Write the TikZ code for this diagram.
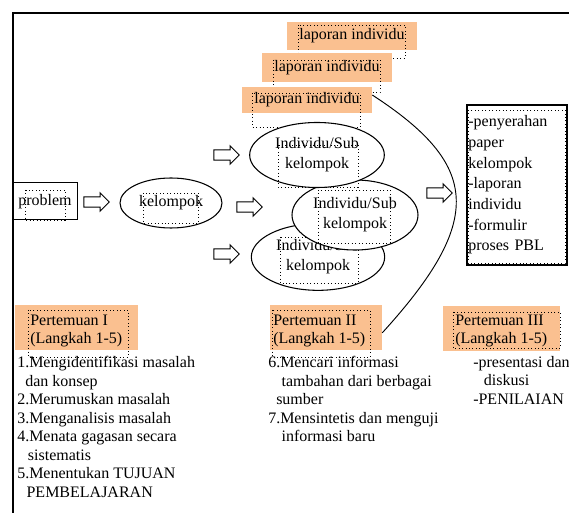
\documentclass[tikz,border=0pt]{standalone}
\usepackage{fontspec}
\setmainfont{Liberation Serif}
\usetikzlibrary{shapes.geometric,shapes.arrows}
\definecolor{jingga}{HTML}{FAC090}
\begin{document}
\begin{tikzpicture}[x=0.75pt,y=-0.75pt,font=\fontsize{12}{13.9}\selectfont,
jbox/.style={fill=jingga,inner sep=0pt},
bingkai/.style={dotted,line width=0.6pt},
panah/.style={single arrow,draw,fill=white,line width=0.7pt,minimum height=19pt,inner xsep=0pt,inner ysep=3.5pt,single arrow head extend=3pt},
elips/.style={ellipse,draw,fill=white,line width=0.8pt,align=center,inner sep=0pt,font=\fontsize{12}{15}\selectfont},
daftar/.style={anchor=north west,align=left,inner sep=0pt}]
\useasboundingbox(0,0)rectangle(569,513);
\draw[line width=0.9pt](569,13)--(13,13)--(13,513);
\node[jbox,minimum width=97.5pt,minimum height=21pt](lap1)at(352,36){laporan individu};
\draw[bingkai](298,25)rectangle(405,58);
\node[jbox,minimum width=97.5pt,minimum height=21.75pt](lap2)at(327,67.5){laporan individu};
\draw[bingkai](273,60)rectangle(380,92);
\node[jbox,minimum width=97.5pt,minimum height=19.5pt](lap3)at(307,100){laporan individu};
\draw[bingkai](252,93)rectangle(360,127);
\node[draw,fill=white,line width=0.75pt,minimum width=48pt,minimum height=27.75pt,inner sep=0pt](prob)at(45,201.5){problem};
\draw[bingkai](25,190)rectangle(65,220);
\node[panah](p1)at(94,202){};
\node[elips,minimum width=76.5pt,minimum height=37.5pt](kel)at(171,203){kelompok};
\draw[bingkai](143,193)rectangle(198,223);
\node[panah](p2)at(224,155){};
\node[panah](p3)at(247,207){};
\node[panah](p4)at(224,254){};
\node[elips,minimum width=100pt,minimum height=50pt](ind3)at(318,257){Individu/Sub\\kelompok};
\draw[bingkai](280,237)rectangle(358,283);
\node[elips,minimum width=94.5pt,minimum height=52.5pt](ind2)at(355,215){Individu/Sub\\kelompok};
\draw[bingkai](318,190)rectangle(390,243);
\node[elips,minimum width=101pt,minimum height=48.75pt](ind1)at(317,155){Individu/Sub\\kelompok};
\draw[bingkai](278,145)rectangle(358,187);
\node[panah](p5)at(437,193){};
\node[draw,line width=0.9pt,minimum height=120pt,text width=73pt,inner xsep=1pt,align=left,font=\fontsize{12}{15.5}\selectfont](hasil)at(517,185){-penyerahan\\paper\\kelompok\\-laporan\\individu\\-formulir\\proses PBL};
\draw[bingkai](468,110)rectangle(565,263);
\node[jbox,minimum width=92.25pt,minimum height=33.75pt](pert1)at(76.5,327.5){};
\node[anchor=west,align=left,inner sep=0pt,font=\fontsize{12}{13.5}\selectfont](judul1)at(30,331){Pertemuan I\\(Langkah 1-5)};
\draw[bingkai](28,310)rectangle(128,357);
\node[jbox,minimum width=84pt,minimum height=33.75pt](pert2)at(326,327.5){};
\node[anchor=west,align=left,inner sep=0pt,font=\fontsize{12}{13.5}\selectfont](judul2)at(273,331){Pertemuan II\\(Langkah 1-5)};
\draw[bingkai](272,310)rectangle(370,357);
\node[jbox,minimum width=87.75pt,minimum height=33.75pt](pert3)at(501.5,328.5){};
\node[anchor=west,align=left,inner sep=0pt,font=\fontsize{12}{13.5}\selectfont](judul3)at(455,331){Pertemuan III\\(Langkah 1-5)};
\draw[bingkai](453,312)rectangle(560,348);
\draw[line width=0.7pt]([yshift=3.75pt]lap3.east)..controls(480,165)and(485,220)..([yshift=-4pt]pert2.east);
\node[daftar](langkah1)at(17,356){1.Mengidentifikasi masalah\\\hspace*{6pt}dan konsep\\2.Merumuskan masalah\\3.Menganalisis masalah\\4.Menata gagasan secara\\\hspace*{8pt}sistematis\\5.Menentukan TUJUAN\\\hspace*{7pt}PEMBELAJARAN};
\node[daftar](langkah2)at(268,356){6.Mencari informasi\\\hspace*{10pt}tambahan dari berbagai\\\hspace*{6pt}sumber\\7.Mensintetis dan menguji\\\hspace*{10pt}informasi baru};
\node[daftar](langkah3)at(473,356){-presentasi dan\\\hspace*{8pt}diskusi\\-PENILAIAN};
\end{tikzpicture}
\end{document}
